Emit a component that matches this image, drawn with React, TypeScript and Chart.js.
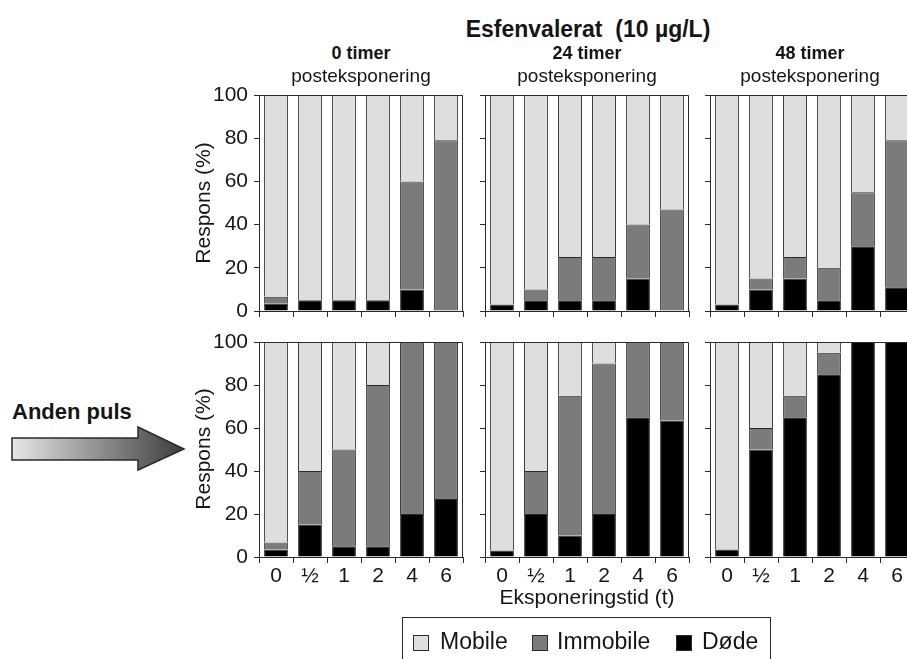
import React, { useEffect, useRef } from 'react';
import { Chart, registerables } from 'chart.js';

Chart.register(...registerables);

// ---------- data ----------
const categories = ['0', '½', '1', '2', '4', '6'];
const yTickStep = 20;
const yMax = 100;
const mainTitle = 'Esfenvalerat  (10 µg/L)';
const panelTitles = ['0 timer', '24 timer', '48 timer'];
const panelSubtitle = 'posteksponering';
const yAxisTitle = 'Respons (%)';
const xAxisTitle = 'Eksponeringstid (t)';
const pulseLabel = 'Anden puls';
const seriesNames = ['Mobile', 'Immobile', 'Døde'];

// top row (first pulse)
const doedeTop0 = [3.3, 5, 5, 5, 10, 0];
const immobileTop0 = [3.3, 0, 0, 0, 50, 79];
const mobileTop0 = [93.4, 95, 95, 95, 40, 21];

const doedeTop24 = [3, 5, 5, 5, 15, 0];
const immobileTop24 = [0, 5, 20, 20, 25, 47];
const mobileTop24 = [97, 90, 75, 75, 60, 53];

const doedeTop48 = [3, 10, 15, 5, 30, 11];
const immobileTop48 = [0, 5, 10, 15, 25, 68];
const mobileTop48 = [97, 85, 75, 80, 45, 21];

// bottom row (second pulse)
const doedeBot0 = [3.5, 15, 5, 5, 20, 27];
const immobileBot0 = [3.3, 25, 45, 75, 80, 73];
const mobileBot0 = [93.2, 60, 50, 20, 0, 0];

const doedeBot24 = [3, 20, 10, 20, 65, 63.5];
const immobileBot24 = [0, 20, 65, 70, 35, 36.5];
const mobileBot24 = [97, 60, 25, 10, 0, 0];

const doedeBot48 = [3.5, 50, 65, 85, 100, 100];
const immobileBot48 = [0, 10, 10, 10, 0, 0];
const mobileBot48 = [96.5, 40, 25, 5, 0, 0];

// ---------- styles ----------
const FONT = '"Liberation Sans", Arial, Helvetica, sans-serif';
const INK = '#151515';
const COL_MOBILE = '#dedede';
const COL_IMMOBILE = '#7b7b7b';
const COL_DOEDE = '#000000';
const EDGE = '#2a2a2a';

const colLeft = [259, 485, 710];
const colWidth = [204, 204, 204];
const rowTop = [95, 342];
const rowHeight = [216, 215];

const YW = 70;
const PT = 24;
const PR = 4;

const framePlugin = {
  id: 'frame',
  afterDatasetsDraw(chart: any) {
    const { ctx, chartArea } = chart;
    const { left, top, right, bottom } = chartArea;
    ctx.save();
    ctx.strokeStyle = EDGE;
    ctx.lineWidth = 1;
    ctx.beginPath();
    ctx.moveTo(Math.round(left) + 0.5, Math.round(top) + 0.5);
    ctx.lineTo(Math.round(right) - 0.5, Math.round(top) + 0.5);
    ctx.lineTo(Math.round(right) - 0.5, Math.round(bottom) + 0.5);
    ctx.stroke();
    ctx.restore();
  },
};

type PanelProps = {
  left: number;
  top: number;
  width: number;
  height: number;
  doede: number[];
  immobile: number[];
  mobile: number[];
  showY: boolean;
  showX: boolean;
};

function Panel(p: PanelProps) {
  const ref = useRef<HTMLCanvasElement | null>(null);
  const XH = p.showX ? 40 : 24;
  const cw = YW + p.width + PR;
  const ch = PT + p.height + XH;

  useEffect(() => {
    if (!ref.current) return;
    const chart = new Chart(ref.current, {
      type: 'bar',
      data: {
        labels: categories,
        datasets: [
          { label: seriesNames[2], data: p.doede, backgroundColor: COL_DOEDE, borderColor: EDGE, borderWidth: 1 },
          { label: seriesNames[1], data: p.immobile, backgroundColor: COL_IMMOBILE, borderColor: EDGE, borderWidth: 1 },
          { label: seriesNames[0], data: p.mobile, backgroundColor: COL_MOBILE, borderColor: EDGE, borderWidth: 1 },
        ],
      },
      options: {
        animation: false,
        responsive: false,
        maintainAspectRatio: false,
        devicePixelRatio: 1,
        layout: { padding: { top: PT, right: PR, left: 0, bottom: 0 } },
        datasets: { bar: { categoryPercentage: 1, barPercentage: 0.7 } },
        plugins: { legend: { display: false }, tooltip: { enabled: false }, title: { display: false } },
        scales: {
          x: {
            stacked: true,
            grid: { offset: true, drawOnChartArea: false, drawTicks: true, tickLength: 6, color: EDGE, lineWidth: 1 },
            border: { display: true, color: EDGE, width: 1 },
            ticks: { display: p.showX, color: INK, font: { family: FONT, size: 21 }, padding: 1, maxRotation: 0, autoSkip: false },
            afterFit: (s: any) => { s.height = XH; },
          },
          y: {
            stacked: true,
            min: 0,
            max: yMax,
            grid: { drawOnChartArea: false, drawTicks: true, tickLength: 5, color: EDGE, lineWidth: 1 },
            border: { display: true, color: EDGE, width: 1 },
            ticks: { display: p.showY, stepSize: yTickStep, color: INK, font: { family: FONT, size: 21 }, padding: 6 },
            afterFit: (s: any) => { s.width = YW; },
          },
        },
      },
      plugins: [framePlugin],
    });
    return () => chart.destroy();
  }, []);

  return (
    <canvas
      ref={ref}
      width={cw}
      height={ch}
      style={{ position: 'absolute', left: p.left - YW, top: p.top - PT, width: cw, height: ch }}
    />
  );
}

function Txt(props: { x: number; y: number; size: number; bold?: boolean; rotate?: boolean; children: any }) {
  return (
    <div
      style={{
        position: 'absolute',
        left: props.x,
        top: props.y,
        transform: `translate(-50%, -50%)${props.rotate ? ' rotate(-90deg)' : ''}`,
        fontFamily: FONT,
        fontSize: props.size,
        fontWeight: props.bold ? 'bold' : 'normal',
        lineHeight: 1,
        whiteSpace: 'pre',
        color: INK,
      }}
    >
      {props.children}
    </div>
  );
}

const panels = [
  [doedeTop0, immobileTop0, mobileTop0],
  [doedeTop24, immobileTop24, mobileTop24],
  [doedeTop48, immobileTop48, mobileTop48],
  [doedeBot0, immobileBot0, mobileBot0],
  [doedeBot24, immobileBot24, mobileBot24],
  [doedeBot48, immobileBot48, mobileBot48],
];

const titleCenters = [361, 587, 810];

export default function App() {
  const legendItems = [
    { name: seriesNames[0], color: COL_MOBILE },
    { name: seriesNames[1], color: COL_IMMOBILE },
    { name: seriesNames[2], color: COL_DOEDE },
  ];
  return (
    <div style={{ position: 'fixed', left: 0, top: 0, width: 907, height: 659, overflow: 'hidden', background: '#fff' }}>
      {panels.map((d, i) => {
        const r = Math.floor(i / 3);
        const c = i % 3;
        return (
          <Panel
            key={i}
            left={colLeft[c]}
            top={rowTop[r]}
            width={colWidth[c]}
            height={rowHeight[r]}
            doede={d[0]}
            immobile={d[1]}
            mobile={d[2]}
            showY={c === 0}
            showX={r === 1}
          />
        );
      })}

      <Txt x={588} y={29} size={23} bold>{mainTitle}</Txt>
      {panelTitles.map((t, i) => (
        <React.Fragment key={t}>
          <Txt x={titleCenters[i]} y={53} size={18} bold>{t}</Txt>
          <Txt x={titleCenters[i]} y={75} size={19}>{panelSubtitle}</Txt>
        </React.Fragment>
      ))}

      <Txt x={202} y={203} size={21} rotate>{yAxisTitle}</Txt>
      <Txt x={202} y={449} size={21} rotate>{yAxisTitle}</Txt>
      <Txt x={587} y={596} size={21}>{xAxisTitle}</Txt>

      {/* Anden puls arrow */}
      <div style={{ position: 'absolute', left: 12, top: 401, fontFamily: FONT, fontSize: 22, fontWeight: 'bold', lineHeight: 1, color: INK, whiteSpace: 'nowrap' }}>
        {pulseLabel}
      </div>
      <svg width={200} height={60} style={{ position: 'absolute', left: 0, top: 420 }}>
        <defs>
          <linearGradient id="arrowGrad" x1="0" y1="0" x2="1" y2="0">
            <stop offset="0" stopColor="#e6e6e6" />
            <stop offset="1" stopColor="#3c3c3c" />
          </linearGradient>
        </defs>
        <path
          d="M12,18 L138,18 L138,7 L184,29 L138,50 L138,40 L12,40 Z"
          fill="url(#arrowGrad)"
          stroke="#2a2a2a"
          strokeWidth={1.5}
          strokeLinejoin="miter"
        />
      </svg>

      {/* legend */}
      <div
        style={{
          position: 'absolute',
          left: 402,
          top: 617,
          width: 369,
          height: 60,
          border: '1.5px solid #2a2a2a',
          boxSizing: 'border-box',
        }}
      />
      {legendItems.map((it, i) => {
        const sx = [413, 532, 676][i];
        const tx = [440, 557, 702][i];
        return (
          <React.Fragment key={it.name}>
            <div style={{ position: 'absolute', left: sx, top: 635, width: 16, height: 16, boxSizing: 'border-box', border: '1px solid #2a2a2a', background: it.color }} />
            <div style={{ position: 'absolute', left: tx, top: 630, fontFamily: FONT, fontSize: 23, lineHeight: 1, color: INK, whiteSpace: 'nowrap' }}>{it.name}</div>
          </React.Fragment>
        );
      })}
    </div>
  );
}
